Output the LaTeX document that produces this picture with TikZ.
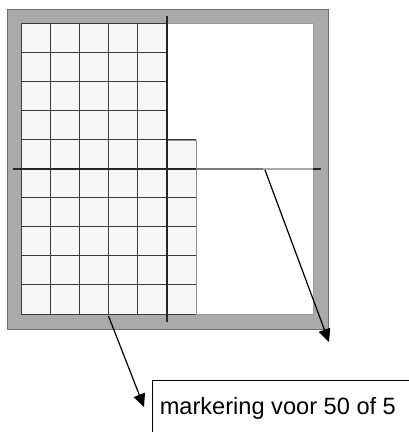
\documentclass[tikz,border=0pt]{standalone}
\usepackage{fontspec}
\setmainfont{Liberation Sans}
\usetikzlibrary{arrows.meta}
\definecolor{framegray}{HTML}{AAAAAA}
\definecolor{frameedge}{HTML}{6E6E6E}
\definecolor{cellfill}{HTML}{F7F7F7}
\definecolor{gridline}{HTML}{3C3C3C}
\definecolor{gridedge}{HTML}{8E8E8E}
\definecolor{axisdark}{HTML}{262626}
\tikzset{
  gridrule/.style={draw=gridline, line width=1pt},
  gridrim/.style={draw=gridedge, line width=1pt},
  axisline/.style={draw=axisdark, line width=1.5pt},
  pointer/.style={draw=black, line width=1.2pt, -{Triangle[length=13pt,width=12pt]}},
  labelbox/.style={draw=black, line width=1.8pt},
  labeltext/.style={inner sep=0pt, anchor=base west, font=\fontsize{23.6}{26}\selectfont}
}
\begin{document}
\begin{tikzpicture}[x=1pt, y=-1pt]
\useasboundingbox (0,0) rectangle (409,432);
\clip (0,0) rectangle (409,432);

% grey frame around the board
\filldraw[fill=framegray, draw=frameedge, line width=0.8pt] (7,9) rectangle (328,329);
\filldraw[fill=white, draw=frameedge!70, line width=0.8pt] (21,23) rectangle (313,314);

% tiled area: 5 columns for the top 4 rows, 6 columns below
\fill[cellfill] (21,23) -- (167,23) -- (167,140) -- (196,140) -- (196,314) -- (21,314) -- cycle;
\foreach \i in {0,...,3} {
  \draw[gridrule] (21,{23+\i*29.1}) -- (167,{23+\i*29.1});
}
\foreach \i in {4,...,10} {
  \draw[gridrule] (21,{23+\i*29.1}) -- (196,{23+\i*29.1});
}
\foreach \j in {0,...,5} {
  \draw[gridrule] ({21+\j*29.17},23) -- ({21+\j*29.17},314);
}
\draw[gridrim] (167,140) -- (196,140) -- (196,314);

% centre axes
\coordinate (vtop) at (167,15.5);
\coordinate (vbot) at (167,322);
\draw[axisline] (vtop) -- (vbot);
\coordinate (hleft) at (12.5,169);
\coordinate (hmidA) at (196,169);
\coordinate (hmark) at (263,169);
\coordinate (hinner) at (313,169);
\coordinate (hright) at (321,169);
\draw[axisline] (hleft) -- (hmidA);
\draw[draw=gray!95!black, line width=1.5pt] (hmidA) -- (hmark);
\draw[draw=black!33, line width=1.5pt] (hmark) -- (hinner);
\draw[axisline] (hinner) -- (hright);

% label box, running off the page to the right and below
\coordinate (boxnw) at (152.5,380.5);
\coordinate (boxse) at (440,460);
\draw[labelbox] (boxnw) rectangle (boxse);
\node[labeltext] (label) at (159.6,414.5) {markering voor 50 of 5};

% pointers
\coordinate (p1start) at (265,170);
\coordinate (p1end) at (329,342);
\draw[pointer] (p1start) -- (p1end);
\coordinate (p2start) at (108.5,316);
\coordinate (p2end) at (144,407);
\draw[pointer] (p2start) -- (p2end);
\end{tikzpicture}
\end{document}
